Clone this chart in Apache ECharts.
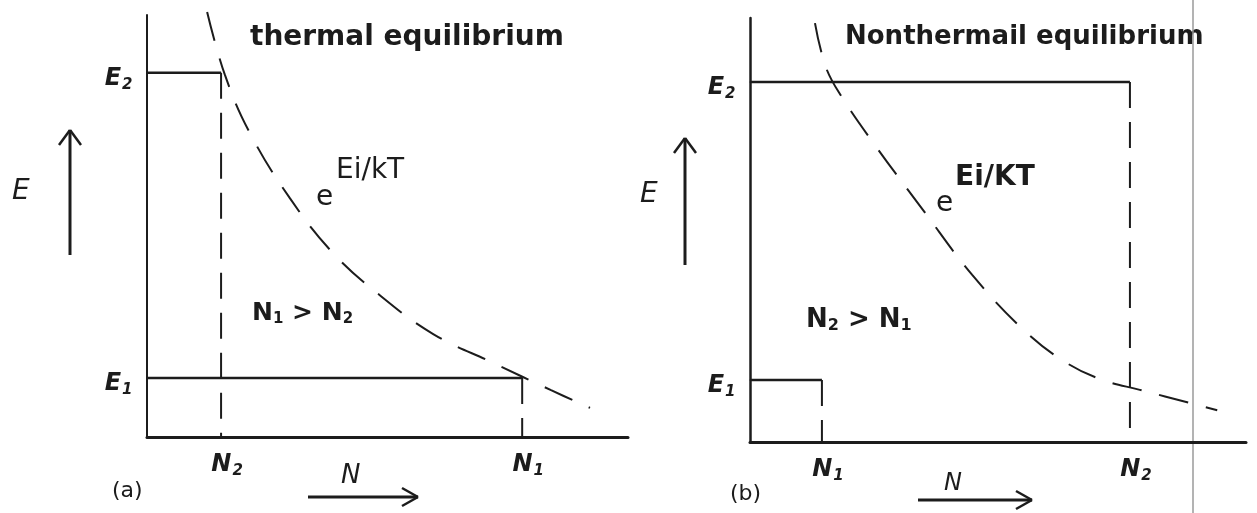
<!DOCTYPE html>
<html>
<head>
<meta charset="utf-8">
<script src="https://cdn.jsdelivr.net/npm/echarts@6/dist/echarts.min.js"></script>
<style>
  html, body { margin: 0; padding: 0; background: #ffffff; }
  #chart { width: 1257px; height: 513px; }
</style>
</head>
<body>
<div id="chart"></div>
<script>
// (a) thermal equilibrium: level energies and populations, arbitrary units
const levelsA = [14.0, 86.3];          // E1, E2
const popsA = [78.0, 15.4];            // N1, N2
// Boltzmann curve e^{Ei/kT} for panel (a)
const boltzA_N = [12.5, 16.2, 21.4, 29.7, 38.5, 48.4, 59.5, 72.1, 84.0, 92.1];
const boltzA_E = [100.7, 85.8, 72.0, 56.6, 43.8, 33.6, 24.4, 17.5, 11.1, 6.9];

// (b) non-thermal equilibrium (population inversion)
const levelsB = [14.6, 84.9];          // E1, E2
const popsB = [14.5, 76.6];            // N1, N2
const boltzB_N = [13.1, 15.3, 18.5, 25.2, 34.9, 44.8, 55.2, 63.9, 71.2, 78.6, 94.2];
const boltzB_E = [98.8, 88.4, 81.4, 70.0, 54.7, 39.4, 26.4, 18.6, 14.6, 12.3, 7.5];

const levelIdx = ['1', '2'];

const INK = '#1c1c1c';
const HAND = '"DejaVu Sans", "Noto Sans", sans-serif';

const subRich = {
  b: { fontFamily: HAND, fontStyle: 'italic', fontSize: 24, color: INK, fontWeight: 'bold', textBorderWidth: 0, opacity: 1 },
  s: { fontFamily: HAND, fontStyle: 'italic', fontSize: 15, color: INK, fontWeight: 'bold', textBorderWidth: 0, opacity: 1,
       verticalAlign: 'bottom', padding: [12, 0, 0, 1] }
};

function zip(xs, ys) { return xs.map((x, i) => [x, ys[i]]); }

function panelSeries(gi, levels, pops, curveN, curveE) {
  const out = [];
  for (let i = 0; i < 2; i++) {
    // energy level line from the E axis to the population
    out.push({
      type: 'line', xAxisIndex: gi, yAxisIndex: gi, symbol: 'none', clip: false,
      lineStyle: { color: INK, width: 2.5 },
      data: [[0, levels[i]], [pops[i], levels[i]]], z: 3
    });
    // dashed drop to the N axis
    out.push({
      type: 'line', xAxisIndex: gi, yAxisIndex: gi, symbol: 'none', clip: false,
      lineStyle: { color: INK, width: 2, type: [26, 14] },
      data: [[pops[i], levels[i]], [pops[i], 0]], z: 3
    });
    // level name E_i (anchor dot sits on the E axis)
    out.push({
      type: 'scatter', xAxisIndex: gi, yAxisIndex: gi, symbolSize: 1,
      itemStyle: { color: INK, opacity: 1 },
      label: { show: true, position: 'left', distance: 14, offset: [0, 6], color: INK, opacity: 1, textBorderWidth: 0,
        formatter: '{b|E}{s|' + levelIdx[i] + '}', rich: subRich },
      data: [[0, levels[i]]], silent: true, z: 5
    });
    // population name N_i (anchor dot sits on the N axis)
    out.push({
      type: 'scatter', xAxisIndex: gi, yAxisIndex: gi, symbolSize: 1,
      itemStyle: { color: INK, opacity: 1 },
      label: { show: true, position: 'bottom', distance: 14, offset: [6, 0], color: INK, opacity: 1, textBorderWidth: 0,
        formatter: '{b|N}{s|' + levelIdx[i] + '}', rich: subRich },
      data: [[pops[i], 0]], silent: true, z: 5
    });
  }
  // Boltzmann distribution, dashed
  out.push({
    type: 'line', xAxisIndex: gi, yAxisIndex: gi, symbol: 'none', smooth: 0.4, clip: false,
    lineStyle: { color: INK, width: 2, type: [30, 18] },
    data: zip(curveN, curveE), z: 2
  });
  return out;
}

function axisPair(gi, xmax, ymax, xw, yw) {
  return {
    x: { type: 'value', gridIndex: gi, min: 0, max: xmax,
      axisLine: { show: true, onZero: false, lineStyle: { color: INK, width: xw } },
      axisTick: { show: false }, axisLabel: { show: false }, splitLine: { show: false } },
    y: { type: 'value', gridIndex: gi, min: 0, max: ymax,
      axisLine: { show: true, onZero: false, lineStyle: { color: INK, width: yw } },
      axisTick: { show: false }, axisLabel: { show: false }, splitLine: { show: false } }
  };
}

const axA = axisPair(0, 100, 100, 3, 2);
const axB = axisPair(1, 100, 100, 3, 2.5);

function txt(x, y, text, size, extra) {
  return Object.assign({ type: 'text', x: x, y: y, silent: true,
    style: Object.assign({ text: text, fill: INK, fontFamily: HAND, fontSize: size, fontWeight: 'bold' }, extra || {}) });
}
function seg(x1, y1, x2, y2, w, color) {
  return { type: 'line', silent: true, shape: { x1: x1, y1: y1, x2: x2, y2: y2 },
    style: { stroke: color || INK, lineWidth: w || 2 } };
}
function upArrow(x, yTop, yBot) {
  return [seg(x, yBot, x, yTop, 3), seg(x, yTop, x - 11, yTop + 15, 2.5), seg(x, yTop, x + 11, yTop + 15, 2.5)];
}
function rightArrow(x1, x2, y) {
  return [seg(x1, y, x2, y, 3), seg(x2, y, x2 - 16, y - 9, 2.5), seg(x2, y, x2 - 16, y + 9, 2.5)];
}

const relRich = (size, subSize) => ({
  n: { fontFamily: HAND, fontSize: size, fontWeight: 'bold', fill: INK },
  s: { fontFamily: HAND, fontSize: subSize, fontWeight: 'bold', fill: INK, verticalAlign: 'bottom', padding: [12, 0, 0, 0] }
});

const graphics = [
  // panel (a) annotations
  txt(250, 24, 'thermal equilibrium', 28),
  txt(316, 184, 'e', 28, { fontWeight: 'normal' }),
  txt(336, 157, 'Ei/kT', 28, { fontWeight: 'normal' }),
  txt(252, 300, '{n|N}{s|1}{n| > N}{s|2}', 24, { rich: relRich(25, 15) }),
  txt(12, 178, 'E', 28, { fontStyle: 'italic', fontWeight: 'normal' }),
  ...upArrow(70, 130, 255),
  txt(341, 463, 'N', 26, { fontStyle: 'italic', fontWeight: 'normal' }),
  ...rightArrow(308, 418, 497),
  txt(112, 480, '(a)', 22, { fontWeight: 'normal' }),

  // panel (b) annotations
  txt(845, 24, 'Nonthermail equilibrium', 26),
  txt(936, 190, 'e', 28, { fontWeight: 'normal' }),
  txt(955, 164, 'Ei/KT', 28),
  txt(806, 306, '{n|N}{s|2}{n| > N}{s|1}', 24, { rich: relRich(26, 16) }),
  txt(640, 181, 'E', 28, { fontStyle: 'italic', fontWeight: 'normal' }),
  ...upArrow(685, 138, 265),
  txt(944, 472, 'N', 24, { fontStyle: 'italic', fontWeight: 'normal' }),
  ...rightArrow(918, 1032, 500),
  txt(730, 483, '(b)', 22, { fontWeight: 'normal' }),

  // scanned page edge on the right
  seg(1193, 0, 1193, 513, 1.5, '#9a9a9a')
];

const chart = echarts.init(document.getElementById('chart'), null, { renderer: 'canvas' });
chart.setOption({
  animation: false,
  backgroundColor: '#ffffff',
  grid: [
    { left: 147, top: 15, width: 481, height: 422 },
    { left: 750, top: 18, width: 496, height: 424 }
  ],
  xAxis: [axA.x, axB.x],
  yAxis: [axA.y, axB.y],
  series: [
    ...panelSeries(0, levelsA, popsA, boltzA_N, boltzA_E),
    ...panelSeries(1, levelsB, popsB, boltzB_N, boltzB_E)
  ],
  graphic: graphics
});
</script>
</body>
</html>
